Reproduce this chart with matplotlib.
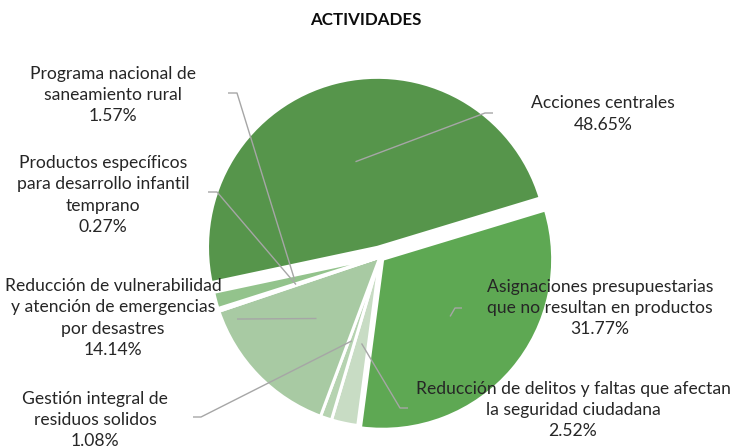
import numpy as np
import matplotlib
matplotlib.use("Agg")
import matplotlib.pyplot as plt

plt.rcParams['font.family'] = ['Lato', 'DejaVu Sans']

title = "ACTIVIDADES"
categories = [
    "Acciones centrales",
    "Asignaciones presupuestarias\nque no resultan en productos",
    "Reducción de delitos y faltas que afectan\nla seguridad ciudadana",
    "Gestión integral de\nresiduos solidos",
    "Reducción de vulnerabilidad\ny atención de emergencias\npor desastres",
    "Productos específicos\npara desarrollo infantil\ntemprano",
    "Programa nacional de\nsaneamiento rural",
]
values = [48.65, 31.77, 2.52, 1.08, 14.14, 0.27, 1.57]
colors = ["#56954B", "#5EA853", "#C8DCC4", "#B6D3B1", "#A8CAA3", "#9CC696", "#93C38C"]
explode = [10, 3.5, 0, 0, 0, 0, 0]  # in pixels (data units)

W, H = 732, 446
fig = plt.figure(figsize=(W / 100, H / 100), dpi=100)
ax = fig.add_axes([0, 0, 1, 1])

R = 170
cx, cy = 380, H - 257
wedges, _ = ax.pie(values, colors=colors, explode=explode, startangle=192,
                   counterclock=False, radius=R, center=(cx, cy),
                   wedgeprops=dict(edgecolor="white", linewidth=2.2))
ax.set_xlim(0, W)
ax.set_ylim(0, H)
ax.set_aspect('auto')
ax.axis('off')

# label text centres (top-origin pixels) and leader stubs
label_pos = [(603, 114), (600, 308), (573, 410), (95, 420), (113, 318), (103, 195), (113, 95)]
stubs = [((493, 113), (485, 113)), ((462, 308), (455, 308)), ((408, 408), (400, 408)),
         ((193, 417), (201, 417)), ((237, 319), (243, 319)), ((208, 192), (217, 192)),
         ((228, 93), (237, 93))]

for w, cat, v, (lx, ly), (s0, s1) in zip(wedges, categories, values, label_pos, stubs):
    mid = np.deg2rad((w.theta1 + w.theta2) / 2)
    wx, wy = w.center
    ax_ = wx + 0.52 * R * np.cos(mid)
    ay_ = wy + 0.52 * R * np.sin(mid)
    ax.plot([s0[0], s1[0], ax_], [H - s0[1], H - s1[1], ay_], color="#A6A6A6", lw=1.0,
            solid_capstyle='butt')
    ax.text(lx, H - ly, f"{cat}\n{v:.2f}%", ha='center', va='center', fontsize=12.6,
            color="#262626", linespacing=1.42)

ax.text(366, H - 20, title, ha='center', va='center', fontsize=12.2, fontweight='bold',
        color="#0D0D0D")

fig.savefig("out.png", dpi=100)
